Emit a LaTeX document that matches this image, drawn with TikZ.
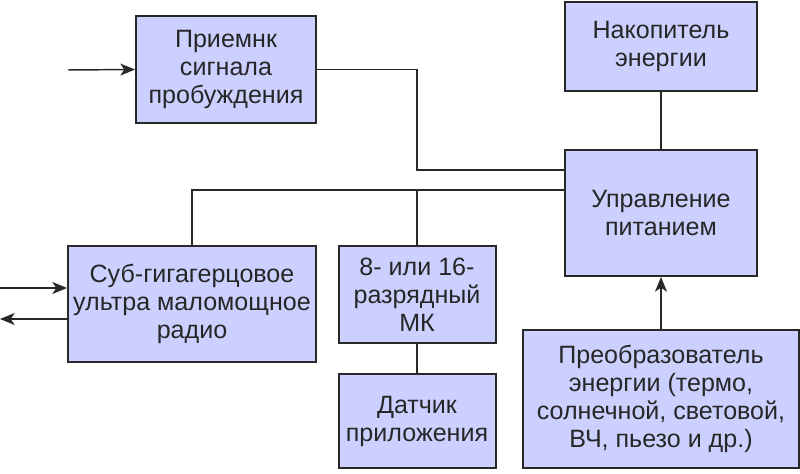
\documentclass[tikz,border=0pt]{standalone}
\usepackage{fontspec}
\setmainfont{Liberation Sans}
\usetikzlibrary{arrows.meta}
\definecolor{boxfill}{RGB}{204,208,255}
\definecolor{linegray}{RGB}{40,40,40}

\begin{document}
\begin{tikzpicture}[x=0.75pt, y=-0.75pt,
    block/.style={draw=linegray, line width=1.5pt, fill=boxfill, align=center,
                  inner sep=0pt, text=black!85,
                  font=\fontsize{18.8}{21}\selectfont},
    wire/.style={draw=linegray, line width=1.1pt},
    arr/.style={wire, -{Stealth[length=11pt,width=9pt,inset=3pt]}},
    every path/.style={line join=miter}]
  \useasboundingbox (0,0) rectangle (800,474);
  % blocks
  \node[block, minimum width=135pt, minimum height=80.25pt] (wake) at (226,69.5)
       {Приемнк\\сигнала\\пробуждения};
  \node[block, minimum width=144pt, minimum height=66.75pt] (store) at (661,46.5)
       {Накопитель\\энергии};
  \node[block, minimum width=144pt, minimum height=94.5pt] (power) at (661,213)
       {Управление\\питанием};
  \node[block, minimum width=186pt, minimum height=87pt] (radio) at (192,304)
       {Суб-гигагерцовое\\ультра маломощное\\радио};
  \node[block, minimum width=117.75pt, minimum height=72.75pt] (mcu) at (417,294.5)
       {8- или 16-\\разрядный\\МК};
  \node[block, minimum width=117.75pt, minimum height=70.5pt] (sensor) at (417,421)
       {Датчик\\приложения};
  \node[block, minimum width=207pt, minimum height=103.5pt] (conv) at (661,399)
       {Преобразователь\\энергии (термо,\\солнечной, световой,\\ВЧ, пьезо и др.)};
  % free ends and bends
  \coordinate (wakein) at (68,70);
  \coordinate (wakebend) at (417,170);
  \coordinate (bus) at (192,190);
  \coordinate (radioin) at (0,288);
  \coordinate (radioout) at (0,319);
  % wake-up receiver
  \draw[arr] (wakein) -- (wake.west);
  \draw[wire] (wake.east) -| (wakebend) -- (wakebend -| power.west);
  % common bus to power management
  \draw[wire] (radio.north) |- (power.west |- bus);
  \draw[wire] (mcu.north) -- (mcu.north |- bus);
  \draw[wire] (mcu.south) -- (sensor.north);
  % energy path
  \draw[wire] (store.south) -- (power.north);
  \draw[arr] (conv.north) -- (power.south);
  % radio link
  \draw[arr] (radioin) -- (radioin -| radio.west);
  \draw[arr] (radioout -| radio.west) -- (radioout);
\end{tikzpicture}
\end{document}
